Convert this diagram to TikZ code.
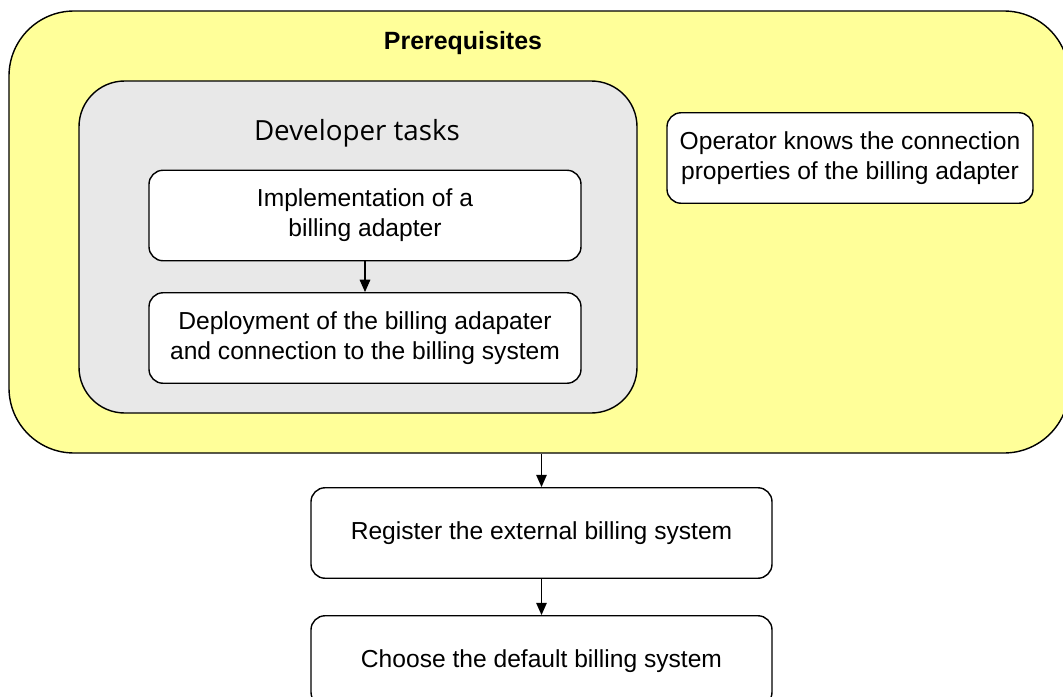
\documentclass[tikz,border=0pt]{standalone}
\usepackage{fontspec}
\setmainfont{Liberation Sans}
\newfontfamily\devfont{Open Sans}
\usepackage{tikz}
\usetikzlibrary{arrows.meta,shapes,positioning}
\definecolor{prereqyellow}{HTML}{FFFF99}
\definecolor{devgray}{HTML}{E8E8E8}
\tikzset{
  every picture/.style = {
    line width = 0.8pt,
    >={Triangle[length=7pt,width=6pt]},
    node distance = 1.5em and 3em,
  }
  ,
  group/.style = {
    rectangle,
    draw,
    minimum width = 1em,
    minimum height = 1em
  }
  , % single steps
  task/.style = {
    rectangle,
    rounded corners = 8pt,
    draw,
    fill = white,
    align = center,
    font = \fontsize{14}{17}\selectfont,
    minimum width = 8.64cm,
    minimum height = 1.81cm
  }
  , % titles of groups
  label-group/.style = {
    font = \fontsize{14.2}{17}\selectfont\bfseries
  }
}

\begin{document}
\begin{tikzpicture}[->]
    \useasboundingbox (0,0) rectangle (21.26,-13.94);
    \node[group, fill=prereqyellow, rounded corners=37pt, minimum width=21.2cm, minimum height=8.84cm] at (10.78,-4.64) (prereq) {};
    \node[label-group] at (9.26,-0.86) (prereqtitle) {Prerequisites};
    \node[group, fill=devgray, rounded corners=26pt, minimum width=11.16cm, minimum height=6.64cm] at (7.16,-4.94) (dev) {};
    \node[font=\devfont\fontsize{15.8}{19}\selectfont] at (7.14,-2.66) (devtitle) {Developer tasks};
    \node[task] at (7.30,-4.31) (impl) {Implementation of a\\ billing adapter};
    \node[task] at (7.30,-6.76) (deploy) {Deployment of the billing adapater\\ and connection to the billing system};
    \node[task, minimum width=7.32cm] at (17.0,-3.16) (operator) {Operator knows the connection\\ properties of the billing adapter};
    \node[task, minimum width=9.22cm] at (10.83,-10.66) (register) {Register the external billing system};
    \node[task, minimum width=9.22cm] at (10.83,-13.22) (choose) {Choose the default billing system};
    \path (impl) edge (deploy);
    \path (prereq.south -| register) edge (register);
    \path (register) edge (choose);
\end{tikzpicture}
\end{document}
